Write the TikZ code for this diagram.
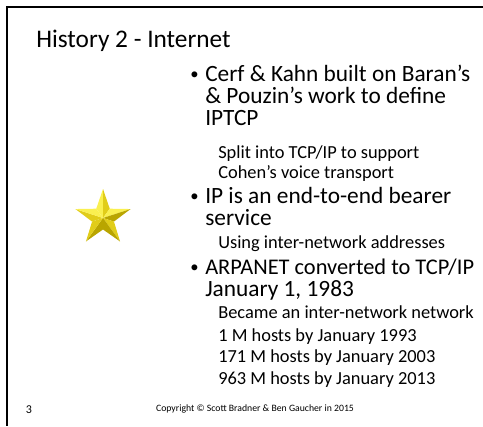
\documentclass[tikz,border=0pt]{standalone}
\usepackage{fontspec}
\setmainfont{Carlito}
\usepackage{tikz}
\usetikzlibrary{positioning}

\definecolor{starlight}{RGB}{250,240,80}
\definecolor{starmid}{RGB}{225,205,25}
\definecolor{stardark}{RGB}{185,165,0}

\begin{document}
\begin{tikzpicture}[x=0.75pt, y=-0.75pt,
    headline/.style={anchor=base west, inner sep=0pt, font=\fontsize{19}{22}\selectfont},
    mainline/.style={anchor=base west, inner sep=0pt, font=\fontsize{17.5}{21}\selectfont},
    bulletdot/.style={anchor=base west, inner sep=0pt, font=\fontsize{12.5}{14}\selectfont},
    subline/.style={anchor=base west, inner sep=0pt, font=\fontsize{13.8}{16}\selectfont},
    footline/.style={anchor=base, inner sep=0pt, font=\fontsize{7.3}{8}\selectfont}]
    \useasboundingbox (0,0) rectangle (483,426);

    % slide frame
    \draw[line width=1.5pt] (6,7) -- (483,7);
    \draw[line width=1.5pt] (7,6) -- (7,426);

    \node[headline] (title) at (36,47) {History 2 - Internet};

    % star
    \coordinate (star) at (103,218);
    \begin{scope}[shift={(star)}]
        \foreach \k/\ca/\cb in {0/starlight/starmid, 1/starlight/stardark, 2/starmid/stardark, 3/stardark/starmid, 4/starmid/starlight} {
            \fill[\ca] (0,0) -- (-90+72*\k:29) -- (-126+72*\k:11.5) -- cycle;
            \fill[\cb] (0,0) -- (-90+72*\k:29) -- (-54+72*\k:11.5) -- cycle;
        }
    \end{scope}

    % bullets
    \node[bulletdot] (dot1) at (190,79) {\textbullet};
    \node[mainline] (b1a) at (205,81) {Cerf \& Kahn built on Baran’s};
    \node[mainline] (b1b) at (205,103) {\& Pouzin’s work to define};
    \node[mainline] (b1c) at (205,125) {IPTCP};
    \node[subline] (s1a) at (218,158) {Split into TCP/IP to support};
    \node[subline] (s1b) at (218,178) {Cohen’s voice transport};

    \node[bulletdot] (dot2) at (190,201) {\textbullet};
    \node[mainline] (b2a) at (205,203) {IP is an end-to-end bearer};
    \node[mainline] (b2b) at (205,225) {service};
    \node[subline] (s2a) at (218,248) {Using inter-network addresses};

    \node[bulletdot] (dot3) at (190,272) {\textbullet};
    \node[mainline, font=\fontsize{16.8}{20}\selectfont] (b3a) at (205,274) {ARPANET converted to TCP/IP};
    \node[mainline] (b3b) at (205,296) {January 1, 1983};
    \node[subline] (s3a) at (218,318) {Became an inter-network network};
    \node[subline] (s3b) at (218,341) {1 M hosts by January 1993};
    \node[subline] (s3c) at (218,362) {171 M hosts by January 2003};
    \node[subline] (s3d) at (218,384) {963 M hosts by January 2013};

    % footer
    \node[footline, font=\fontsize{9}{10}\selectfont] (pagenum) at (29,413) {3};
    \node[footline] (copyright) at (255,411) {Copyright © Scott Bradner \& Ben Gaucher in 2015};
\end{tikzpicture}
\end{document}
